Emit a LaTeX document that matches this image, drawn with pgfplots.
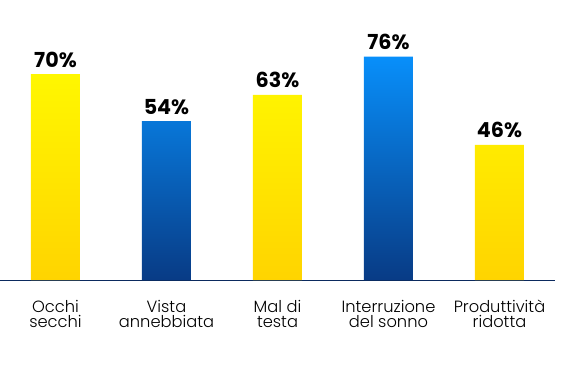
\documentclass[border=0pt]{standalone}
\usepackage{pgfplots}
\pgfplotsset{compat=1.18}
\usepackage{fontspec}
\setmainfont{Poppins}
\newfontfamily\labelfont{Poppins}[UprightFont={* Light}]
\definecolor{ytop}{HTML}{FFF700}
\definecolor{ybot}{HTML}{FFD400}
\definecolor{btop}{HTML}{088FFA}
\definecolor{bbot}{HTML}{083B85}
\definecolor{axisnavy}{HTML}{0B2A5E}
\begin{document}
\begin{tikzpicture}
\useasboundingbox (0,-69pt) rectangle (421.5pt,210pt);
\begin{axis}[
  at={(0,0)}, anchor=south west,
  scale only axis, width=416.25pt, height=210pt,
  xmin=-0.5, xmax=4.5, ymin=0, ymax=95.24,
  axis x line*=bottom, axis y line=none,
  x axis line style={draw=axisnavy, line width=0.7pt},
  xtick={0,1,2,3,4},
  xticklabels={{Occhi\\secchi},{Vista\\annebbiata},{Mal di\\testa},{Interruzione\\del sonno},{Produttività\\ridotta}},
  major tick length=0pt,
  xticklabel style={align=center, font=\labelfont\fontsize{12.2}{11.2}\selectfont, inner sep=0pt, yshift=-15pt},
  ybar, bar width=36.75pt, bar shift=0pt,
  clip=false,
  /pgf/number format/assume math mode=true,
  nodes near coords={\pgfmathprintnumber{\pgfplotspointmeta}\%},
  every node near coord/.append style={font=\bfseries\fontsize{15.5}{18}\selectfont, anchor=south, inner sep=0pt, yshift=5pt, text=black},
]
\addplot[draw=none, top color=ytop, bottom color=ybot] coordinates {(0,70) (2,63) (4,46)};
\addplot[draw=none, top color=btop, bottom color=bbot] coordinates {(1,54) (3,76)};
\end{axis}
\end{tikzpicture}
\end{document}
